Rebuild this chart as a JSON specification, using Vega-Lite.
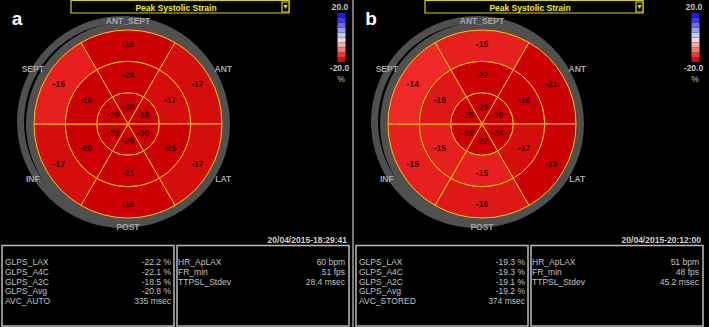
{
  "$schema": "https://vega.github.io/schema/vega-lite/v6.json",
  "width": 709,
  "height": 327,
  "padding": 0,
  "autosize": {"type": "none"},
  "background": "#000000",
  "config": {"view": {"stroke": null}, "font": "Liberation Sans"},
  "datasets": {
    "panels": [
      {"p": 0, "letter": "a", "time": "20/04/2015-18:29:41"},
      {"p": 1, "letter": "b", "time": "20/04/2015-20:12:00"}
    ],
    "segs": [
      {"p": 0, "ring": 1, "sec": 0, "v": -30}, {"p": 0, "ring": 1, "sec": 1, "v": -18}, {"p": 0, "ring": 1, "sec": 2, "v": -30},
      {"p": 0, "ring": 1, "sec": 3, "v": -26}, {"p": 0, "ring": 1, "sec": 4, "v": -23}, {"p": 0, "ring": 1, "sec": 5, "v": -29},
      {"p": 0, "ring": 2, "sec": 0, "v": -24}, {"p": 0, "ring": 2, "sec": 1, "v": -17}, {"p": 0, "ring": 2, "sec": 2, "v": -21},
      {"p": 0, "ring": 2, "sec": 3, "v": -21}, {"p": 0, "ring": 2, "sec": 4, "v": -20}, {"p": 0, "ring": 2, "sec": 5, "v": -19},
      {"p": 0, "ring": 3, "sec": 0, "v": -18}, {"p": 0, "ring": 3, "sec": 1, "v": -17}, {"p": 0, "ring": 3, "sec": 2, "v": -17},
      {"p": 0, "ring": 3, "sec": 3, "v": -18}, {"p": 0, "ring": 3, "sec": 4, "v": -17}, {"p": 0, "ring": 3, "sec": 5, "v": -15},
      {"p": 1, "ring": 1, "sec": 0, "v": -29}, {"p": 1, "ring": 1, "sec": 1, "v": -20}, {"p": 1, "ring": 1, "sec": 2, "v": -24},
      {"p": 1, "ring": 1, "sec": 3, "v": -22}, {"p": 1, "ring": 1, "sec": 4, "v": -23}, {"p": 1, "ring": 1, "sec": 5, "v": -25},
      {"p": 1, "ring": 2, "sec": 0, "v": -22}, {"p": 1, "ring": 2, "sec": 1, "v": -18}, {"p": 1, "ring": 2, "sec": 2, "v": -17},
      {"p": 1, "ring": 2, "sec": 3, "v": -15}, {"p": 1, "ring": 2, "sec": 4, "v": -15}, {"p": 1, "ring": 2, "sec": 5, "v": -16},
      {"p": 1, "ring": 3, "sec": 0, "v": -15}, {"p": 1, "ring": 3, "sec": 1, "v": -21}, {"p": 1, "ring": 3, "sec": 2, "v": -19},
      {"p": 1, "ring": 3, "sec": 3, "v": -16}, {"p": 1, "ring": 3, "sec": 4, "v": -15}, {"p": 1, "ring": 3, "sec": 5, "v": -14}
    ],
    "dirs": [
      {"p": 0, "sec": 0, "name": "ANT_SEPT"}, {"p": 0, "sec": 1, "name": "ANT"}, {"p": 0, "sec": 2, "name": "LAT"},
      {"p": 0, "sec": 3, "name": "POST"}, {"p": 0, "sec": 4, "name": "INF"}, {"p": 0, "sec": 5, "name": "SEPT"},
      {"p": 1, "sec": 0, "name": "ANT_SEPT"}, {"p": 1, "sec": 1, "name": "ANT"}, {"p": 1, "sec": 2, "name": "LAT"},
      {"p": 1, "sec": 3, "name": "POST"}, {"p": 1, "sec": 4, "name": "INF"}, {"p": 1, "sec": 5, "name": "SEPT"}
    ],
    "cbar": [
      {"p": 0, "c0": -20, "c1": -16}, {"p": 0, "c0": -16, "c1": -12}, {"p": 0, "c0": -12, "c1": -8}, {"p": 0, "c0": -8, "c1": -4},
      {"p": 0, "c0": -4, "c1": 0}, {"p": 0, "c0": 0, "c1": 4}, {"p": 0, "c0": 4, "c1": 8}, {"p": 0, "c0": 8, "c1": 12},
      {"p": 0, "c0": 12, "c1": 16}, {"p": 0, "c0": 16, "c1": 20},
      {"p": 1, "c0": -20, "c1": -16}, {"p": 1, "c0": -16, "c1": -12}, {"p": 1, "c0": -12, "c1": -8}, {"p": 1, "c0": -8, "c1": -4},
      {"p": 1, "c0": -4, "c1": 0}, {"p": 1, "c0": 0, "c1": 4}, {"p": 1, "c0": 4, "c1": 8}, {"p": 1, "c0": 8, "c1": 12},
      {"p": 1, "c0": 12, "c1": 16}, {"p": 1, "c0": 16, "c1": 20}
    ],
    "info": [
      {"p": 0, "col": 0, "row": 0, "label": "GLPS_LAX", "val": "-22.2 %"},
      {"p": 0, "col": 0, "row": 1, "label": "GLPS_A4C", "val": "-22.1 %"},
      {"p": 0, "col": 0, "row": 2, "label": "GLPS_A2C", "val": "-18.5 %"},
      {"p": 0, "col": 0, "row": 3, "label": "GLPS_Avg", "val": "-20.8 %"},
      {"p": 0, "col": 0, "row": 4, "label": "AVC_AUTO", "val": "335 msec"},
      {"p": 0, "col": 1, "row": 0, "label": "HR_ApLAX", "val": "60 bpm"},
      {"p": 0, "col": 1, "row": 1, "label": "FR_min", "val": "51 fps"},
      {"p": 0, "col": 1, "row": 2, "label": "TTPSL_Stdev", "val": "28.4 msec"},
      {"p": 1, "col": 0, "row": 0, "label": "GLPS_LAX", "val": "-19.3 %"},
      {"p": 1, "col": 0, "row": 1, "label": "GLPS_A4C", "val": "-19.3 %"},
      {"p": 1, "col": 0, "row": 2, "label": "GLPS_A2C", "val": "-19.1 %"},
      {"p": 1, "col": 0, "row": 3, "label": "GLPS_Avg", "val": "-19.2 %"},
      {"p": 1, "col": 0, "row": 4, "label": "AVC_STORED", "val": "374 msec"},
      {"p": 1, "col": 1, "row": 0, "label": "HR_ApLAX", "val": "51 bpm"},
      {"p": 1, "col": 1, "row": 1, "label": "FR_min", "val": "48 fps"},
      {"p": 1, "col": 1, "row": 2, "label": "TTPSL_Stdev", "val": "45.2 msec"}
    ]
  },
  "encoding": {
    "x": {"field": "p", "type": "quantitative", "stack": null, "scale": {"domain": [0, 1], "range": [0, 354]}, "axis": null}
  },
  "layer": [
    {
      "data": {"name": "panels"},
      "mark": {"type": "arc", "theta": 0, "theta2": 6.2832, "radius": 106, "radius2": 99, "color": "#505050", "xOffset": 123},
      "encoding": {"y": {"value": 122}}
    },
    {
      "data": {"name": "panels"},
      "mark": {"type": "arc", "theta": 0, "theta2": 6.2832, "radius": 102, "radius2": 92, "color": "#505050", "xOffset": 128},
      "encoding": {"y": {"value": 124}}
    },
    {
      "data": {"name": "segs"},
      "mark": {"type": "arc", "stroke": "#f5c800", "strokeWidth": 1, "theta2Offset": 1.0472, "radius2Offset": -31.333, "xOffset": 128},
      "encoding": {
        "y": {"value": 124},
        "theta": {"field": "sec", "type": "quantitative", "stack": null, "scale": {"domain": [0, 6], "range": [-0.5236, 5.7596]}},
        "theta2": {"field": "sec"},
        "radius": {"field": "ring", "type": "quantitative", "scale": {"type": "linear", "zero": true, "domain": [0, 3], "range": [0, 94]}},
        "radius2": {"field": "ring"},
        "fill": {"field": "v", "type": "quantitative", "scale": {"domain": [-18, -14], "range": ["#cc0000", "#f02828"], "clamp": true}, "legend": null}
      }
    },
    {
      "data": {"name": "segs"},
      "mark": {"type": "text", "fontWeight": "bold", "fontSize": 8.5, "color": "#3c0000", "thetaOffset": 0.5236, "radiusOffset": -14, "xOffset": 128, "align": "center", "baseline": "middle"},
      "encoding": {
        "y": {"value": 124},
        "theta": {"field": "sec", "type": "quantitative", "stack": null},
        "radius": {"field": "ring", "type": "quantitative"},
        "text": {"field": "v"}
      }
    },
    {
      "data": {"name": "dirs"},
      "transform": [{"filter": "datum.sec == 0 || datum.sec == 3"}],
      "mark": {"type": "text", "fontWeight": "bold", "fontSize": 8.5, "color": "#a6a6a6", "thetaOffset": 0.5236, "xOffset": 128, "align": "center", "baseline": "middle"},
      "encoding": {
        "y": {"value": 124},
        "theta": {"field": "sec", "type": "quantitative", "stack": null},
        "radius": {"value": 103},
        "text": {"field": "name"}
      }
    },
    {
      "data": {"name": "dirs"},
      "transform": [{"filter": "datum.sec != 0 && datum.sec != 3"}],
      "mark": {"type": "text", "fontWeight": "bold", "fontSize": 8.5, "color": "#a6a6a6", "thetaOffset": 0.5236, "xOffset": 128, "align": "center", "baseline": "middle"},
      "encoding": {
        "y": {"value": 124},
        "theta": {"field": "sec", "type": "quantitative", "stack": null},
        "radius": {"value": 110},
        "text": {"field": "name"}
      }
    },
    {
      "data": {"name": "panels"},
      "mark": {"type": "rect", "fill": "#000000", "stroke": "#d4d400", "strokeWidth": 1.2, "xOffset": 71, "x2Offset": 289},
      "encoding": {"x2": {"field": "p"}, "y": {"value": 0.5}, "y2": {"value": 13}}
    },
    {
      "data": {"name": "panels"},
      "mark": {"type": "rect", "fill": "#000000", "stroke": "#d4d400", "strokeWidth": 1.2, "xOffset": 282, "x2Offset": 289},
      "encoding": {"x2": {"field": "p"}, "y": {"value": 2}, "y2": {"value": 12}}
    },
    {
      "data": {"name": "panels"},
      "mark": {"type": "text", "text": "▼", "fontSize": 7, "color": "#e0e000", "xOffset": 285.5, "align": "center", "baseline": "middle"},
      "encoding": {"y": {"value": 7}}
    },
    {
      "data": {"name": "panels"},
      "mark": {"type": "text", "text": "Peak Systolic Strain", "fontSize": 8.5, "fontWeight": "bold", "color": "#f0f000", "xOffset": 176, "align": "center", "baseline": "middle"},
      "encoding": {"y": {"value": 8}}
    },
    {
      "data": {"name": "panels"},
      "mark": {"type": "text", "fontSize": 19, "fontWeight": "bold", "color": "#ffffff", "xOffset": 17, "align": "center", "baseline": "middle"},
      "encoding": {"y": {"value": 19}, "text": {"field": "letter"}}
    },
    {
      "data": {"name": "cbar"},
      "mark": {"type": "rect", "xOffset": 337.5, "x2Offset": 345.5},
      "encoding": {
        "x2": {"field": "p"},
        "y": {"field": "c1", "type": "quantitative", "scale": {"domain": [-20, 20], "range": [62, 13]}, "axis": null},
        "y2": {"field": "c0"},
        "color": {"field": "c0", "type": "ordinal", "legend": null,
          "scale": {"domain": [-20, -16, -12, -8, -4, 0, 4, 8, 12, 16],
                    "range": ["#e00808", "#f03838", "#f07878", "#f0a8a8", "#f0d8d8", "#c8c8f0", "#9c9cf0", "#6a6af0", "#3c3cf0", "#1c1cdc"]}}
      }
    },
    {
      "data": {"name": "panels"},
      "mark": {"type": "text", "text": "20.0", "fontSize": 8.5, "fontWeight": "bold", "color": "#c8c8c8", "xOffset": 340, "align": "center", "baseline": "middle"},
      "encoding": {"y": {"value": 7}}
    },
    {
      "data": {"name": "panels"},
      "mark": {"type": "text", "text": "-20.0", "fontSize": 8.5, "fontWeight": "bold", "color": "#c8c8c8", "xOffset": 339.5, "align": "center", "baseline": "middle"},
      "encoding": {"y": {"value": 68}}
    },
    {
      "data": {"name": "panels"},
      "mark": {"type": "text", "text": "%", "fontSize": 8.5, "color": "#c8c8c8", "xOffset": 341, "align": "center", "baseline": "middle"},
      "encoding": {"y": {"value": 79}}
    },
    {
      "data": {"name": "panels"},
      "mark": {"type": "text", "fontSize": 8.5, "fontWeight": "bold", "color": "#d0d0d0", "xOffset": 347, "align": "right", "baseline": "middle"},
      "encoding": {"y": {"value": 240}, "text": {"field": "time"}}
    },
    {
      "data": {"name": "panels"},
      "mark": {"type": "rect", "filled": false, "color": "#bbbbbb", "strokeWidth": 1.5, "xOffset": 2, "x2Offset": 174},
      "encoding": {"x2": {"field": "p"}, "y": {"value": 245.5}, "y2": {"value": 326}}
    },
    {
      "data": {"name": "panels"},
      "mark": {"type": "rect", "filled": false, "color": "#bbbbbb", "strokeWidth": 1.5, "xOffset": 177, "x2Offset": 349},
      "encoding": {"x2": {"field": "p"}, "y": {"value": 245.5}, "y2": {"value": 326}}
    },
    {
      "data": {"name": "info"},
      "transform": [{"filter": "datum.col == 0"}],
      "mark": {"type": "text", "fontSize": 8.5, "color": "#c0c0c0", "xOffset": 5, "align": "left", "baseline": "middle"},
      "encoding": {"y": {"field": "row", "type": "quantitative", "scale": {"domain": [0, 4], "range": [262.3, 300.7]}, "axis": null}, "text": {"field": "label"}}
    },
    {
      "data": {"name": "info"},
      "transform": [{"filter": "datum.col == 0"}],
      "mark": {"type": "text", "fontSize": 8.5, "color": "#c0c0c0", "xOffset": 171, "align": "right", "baseline": "middle"},
      "encoding": {"y": {"field": "row", "type": "quantitative", "scale": {"domain": [0, 4], "range": [262.3, 300.7]}, "axis": null}, "text": {"field": "val"}}
    },
    {
      "data": {"name": "info"},
      "transform": [{"filter": "datum.col == 1"}],
      "mark": {"type": "text", "fontSize": 8.5, "color": "#c0c0c0", "xOffset": 178, "align": "left", "baseline": "middle"},
      "encoding": {"y": {"field": "row", "type": "quantitative", "scale": {"domain": [0, 4], "range": [262.3, 300.7]}, "axis": null}, "text": {"field": "label"}}
    },
    {
      "data": {"name": "info"},
      "transform": [{"filter": "datum.col == 1"}],
      "mark": {"type": "text", "fontSize": 8.5, "color": "#c0c0c0", "xOffset": 345, "align": "right", "baseline": "middle"},
      "encoding": {"y": {"field": "row", "type": "quantitative", "scale": {"domain": [0, 4], "range": [262.3, 300.7]}, "axis": null}, "text": {"field": "val"}}
    },
    {
      "data": {"name": "panels"},
      "transform": [{"filter": "datum.p == 1"}],
      "mark": {"type": "rule", "color": "#a0a0a0", "strokeWidth": 1.5, "xOffset": -1},
      "encoding": {}
    }
  ],
  "resolve": {"scale": {"y": "independent"}}
}
